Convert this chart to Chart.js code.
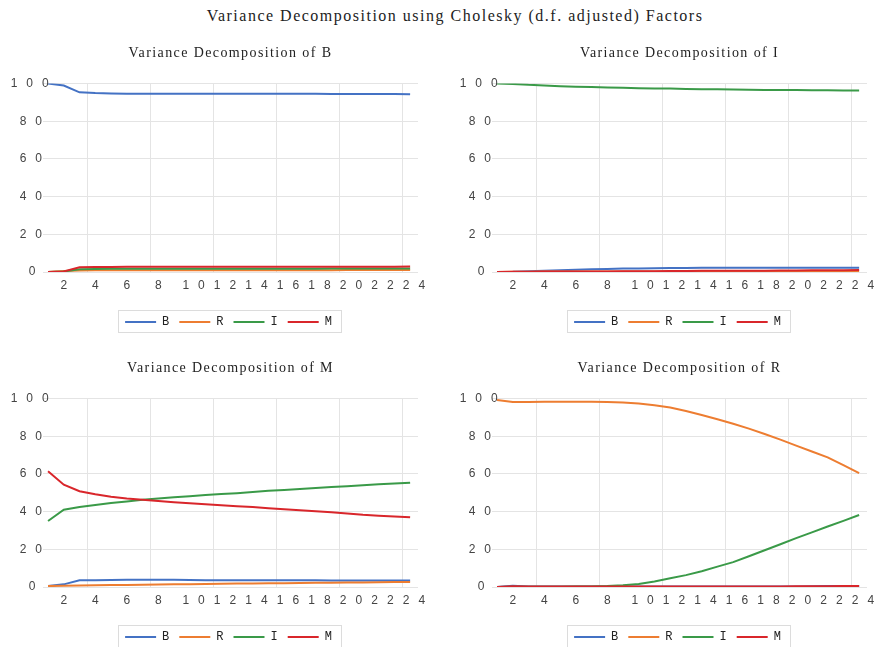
<!DOCTYPE html>
<html>
<head>
<meta charset="utf-8">
<title>Variance Decomposition</title>
<script src="https://cdn.jsdelivr.net/npm/chart.js@4.4.1/dist/chart.umd.min.js"></script>
<style>
  html, body { margin: 0; padding: 0; background: #fff; overflow: hidden; }
  body { width: 875px; height: 647px; position: relative; }
  #title {
    position: absolute; left: 0; top: 6px; width: 910px;
    text-align: center; font: 16px 'Liberation Serif', serif;
    letter-spacing: 1.5px; line-height: 20px; color: #222;
  }
  .box { position: absolute; width: 437px; height: 308px; }
</style>
</head>
<body>
<div id="title">Variance Decomposition using Cholesky (d.f. adjusted) Factors</div>
<div class="box" style="left:0;top:30px"><canvas id="chartB" width="437" height="308"></canvas></div>
<div class="box" style="left:437px;top:30px"><canvas id="chartI" width="437" height="308"></canvas></div>
<div class="box" style="left:0;top:345px"><canvas id="chartM" width="437" height="308"></canvas></div>
<div class="box" style="left:437px;top:345px"><canvas id="chartR" width="437" height="308"></canvas></div>

<script>
const periods = [1, 2, 3, 4, 5, 6, 7, 8, 9, 10, 11, 12, 13, 14, 15, 16, 17, 18, 19, 20, 21, 22, 23, 24];
const seriesNames = ['B', 'R', 'I', 'M'];
const seriesColors = ['#4472C4', '#ED7D31', '#3A9A48', '#D9262B'];
const yTicks = [0, 20, 40, 60, 80, 100];
const xTickLabels = [2, 4, 6, 8, 10, 12, 14, 16, 18, 20, 22, 24];
const xGridAt = [3.5, 7.5, 11.5, 15.5, 19.5, 23.5];

// Variance Decomposition of B
const ofB_B = [100, 98.9, 95.3, 94.9, 94.7, 94.6, 94.6, 94.6, 94.6, 94.6, 94.6, 94.6, 94.6, 94.6, 94.5, 94.5, 94.5, 94.5, 94.4, 94.4, 94.4, 94.4, 94.4, 94.3];
const ofB_R = [0, 0.5, 0.8, 0.9, 0.9, 0.9, 0.9, 0.9, 0.9, 0.9, 0.9, 0.9, 0.9, 0.9, 0.9, 0.9, 0.9, 0.9, 0.9, 1.0, 1.0, 1.0, 1.0, 1.0];
const ofB_I = [0, 0.3, 1.4, 1.6, 1.7, 1.7, 1.7, 1.7, 1.7, 1.7, 1.7, 1.7, 1.7, 1.7, 1.7, 1.7, 1.7, 1.7, 1.8, 1.8, 1.8, 1.8, 1.8, 1.8];
const ofB_M = [0, 0.3, 2.5, 2.6, 2.7, 2.8, 2.8, 2.8, 2.8, 2.8, 2.8, 2.8, 2.8, 2.8, 2.8, 2.8, 2.8, 2.8, 2.8, 2.8, 2.8, 2.8, 2.8, 2.9];

// Variance Decomposition of I
const ofI_B = [0, 0.1, 0.4, 0.7, 0.9, 1.2, 1.4, 1.6, 1.8, 1.9, 2.0, 2.1, 2.1, 2.2, 2.2, 2.2, 2.3, 2.3, 2.3, 2.3, 2.3, 2.3, 2.3, 2.3];
const ofI_R = [0, 0.1, 0.1, 0.2, 0.2, 0.2, 0.2, 0.2, 0.2, 0.2, 0.2, 0.3, 0.3, 0.3, 0.3, 0.3, 0.3, 0.3, 0.4, 0.4, 0.4, 0.4, 0.4, 0.4];
const ofI_I = [100, 99.8, 99.3, 99.0, 98.6, 98.3, 98.1, 97.9, 97.7, 97.5, 97.4, 97.3, 97.1, 97.0, 96.9, 96.8, 96.7, 96.6, 96.5, 96.5, 96.4, 96.4, 96.3, 96.3];
const ofI_M = [0, 0.1, 0.1, 0.2, 0.2, 0.3, 0.3, 0.3, 0.4, 0.4, 0.4, 0.5, 0.5, 0.6, 0.6, 0.7, 0.7, 0.7, 0.8, 0.8, 0.9, 0.9, 0.9, 1.0];

// Variance Decomposition of M
const ofM_B = [0.5, 1.4, 3.6, 3.6, 3.7, 3.8, 3.8, 3.8, 3.8, 3.7, 3.6, 3.6, 3.6, 3.6, 3.6, 3.6, 3.6, 3.6, 3.5, 3.4, 3.4, 3.4, 3.4, 3.4];
const ofM_R = [0.5, 0.7, 0.8, 0.9, 1.0, 1.1, 1.2, 1.3, 1.4, 1.5, 1.6, 1.7, 1.8, 1.9, 2.0, 2.0, 2.1, 2.2, 2.3, 2.4, 2.4, 2.5, 2.6, 2.7];
const ofM_I = [35.0, 41.0, 42.4, 43.5, 44.5, 45.4, 46.3, 47.0, 47.6, 48.2, 48.8, 49.3, 49.8, 50.4, 51.0, 51.5, 52.0, 52.5, 53.0, 53.5, 54.0, 54.5, 54.9, 55.3];
const ofM_M = [61.4, 54.3, 50.8, 49.2, 47.9, 47.0, 46.3, 45.6, 45.0, 44.4, 43.9, 43.4, 42.9, 42.4, 41.8, 41.2, 40.7, 40.2, 39.6, 39.0, 38.3, 37.8, 37.4, 37.0];

// Variance Decomposition of R
const ofR_B = [0, 0.7, 0.3, 0.2, 0.2, 0.2, 0.2, 0.2, 0.2, 0.2, 0.2, 0.2, 0.2, 0.2, 0.2, 0.2, 0.2, 0.3, 0.3, 0.3, 0.4, 0.5, 0.5, 0.5];
const ofR_R = [99.2, 98.2, 98.2, 98.3, 98.3, 98.3, 98.3, 98.2, 97.9, 97.3, 96.4, 95.2, 93.4, 91.2, 89.0, 86.6, 84.0, 81.2, 78.2, 75.0, 71.9, 68.8, 64.6, 60.4];
const ofR_I = [0, 0.1, 0.1, 0.1, 0.1, 0.2, 0.3, 0.5, 0.9, 1.6, 2.9, 4.6, 6.3, 8.4, 10.8, 13.2, 16.3, 19.5, 22.7, 25.9, 29.0, 32.1, 35.1, 38.2];
const ofR_M = [0, 0.4, 0.3, 0.3, 0.3, 0.3, 0.3, 0.3, 0.3, 0.3, 0.3, 0.3, 0.3, 0.3, 0.3, 0.3, 0.3, 0.3, 0.3, 0.4, 0.4, 0.4, 0.5, 0.5];

const CHAR_STEP = 15.7;
const xTickValues = xTickLabels.concat(xGridAt).sort((a, b) => a - b);

Chart.defaults.font.family = "'Liberation Sans', Arial, sans-serif";

// tick labels in the picture are drawn with very wide letter spacing
function spaceLabels(scale) {
  if (scale._spaced) return;
  scale._spaced = true;
  scale._computeLabelArea = () => undefined; // let "100" run into the plot like the original
  const orig = scale.drawLabels;
  scale.drawLabels = function (area) {
    const ctx = this.ctx;
    const fill = ctx.fillText;
    const horiz = this.isHorizontal();
    ctx.fillText = function (text, x, y) {
      const chars = String(text).split('');
      const n = chars.length;
      const first = horiz ? x - (n - 1) * 4 : x - 2 - n * 9;
      const align = this.textAlign;
      this.textAlign = 'center';
      chars.forEach((c, i) => fill.call(this, c, first + i * CHAR_STEP, y));
      this.textAlign = align;
    };
    orig.call(this, area);
    delete ctx.fillText;
  };
}

const tweaks = {
  id: 'tweaks',
  afterLayout(chart) {
    const ca = chart.chartArea;
    const t = chart.titleBlock;
    if (t) {
      t.left = ca.left; t.right = ca.right;
      if (!t._wrapped) {
        t._wrapped = true;
        const d = t.draw;
        t.draw = function () {
          const c = this.ctx;
          c.save();
          c.letterSpacing = '1.4px';
          d.call(this);
          c.restore();
        };
      }
    }
    const lg = chart.legend;
    if (lg) { lg.left = ca.left - 2; lg.right = ca.right - 2; }
  },
  beforeDraw(chart) {
    spaceLabels(chart.scales.x);
    spaceLabels(chart.scales.y);
  },
  afterDraw(chart) {
    const hb = chart.legend.legendHitBoxes;
    if (!hb || !hb.length) return;
    const ctx = chart.ctx;
    const last = hb[hb.length - 1];
    const l = Math.round(hb[0].left - 7) + 0.5;
    const r = Math.round(last.left + last.width + 9) + 0.5;
    const t = Math.round(hb[0].top - 6) + 0.5;
    const b = Math.round(hb[0].top + 16) + 0.5;
    ctx.save();
    ctx.strokeStyle = '#dcdcdc';
    ctx.lineWidth = 1;
    ctx.strokeRect(l, t, r - l, b - t);
    ctx.restore();
  }
};

function makeChart(id, title, values, side) {
  const yWidth = side === 'left' ? 43 : 55;
  const padRight = side === 'left' ? 19 : 7;
  const tickFont = { family: "'Liberation Sans', Arial, sans-serif", size: 12 };
  return new Chart(document.getElementById(id).getContext('2d'), {
    type: 'line',
    data: {
      labels: periods,
      datasets: seriesNames.map((name, k) => ({
        label: name,
        data: values[k],
        borderColor: seriesColors[k],
        backgroundColor: seriesColors[k],
        borderWidth: 2,
        pointRadius: 0,
        tension: 0,
        fill: false,
        order: 4 - k
      }))
    },
    options: {
      responsive: false,
      animation: false,
      devicePixelRatio: 1,
      layout: { padding: { left: 0, right: padRight, top: 0, bottom: 0 } },
      plugins: {
        title: {
          display: true,
          text: title,
          color: '#222',
          font: { family: "'Liberation Serif', serif", size: 14, weight: 'normal' },
          padding: { top: 14.6, bottom: 22.1 }
        },
        legend: {
          position: 'bottom',
          labels: {
            usePointStyle: true,
            pointStyle: 'line',
            pointStyleWidth: 31,
            padding: 10,
            color: '#222',
            font: { family: "'Liberation Mono', monospace", size: 12 },
            sort: (a, b) => a.datasetIndex - b.datasetIndex
          }
        },
        tooltip: { enabled: false }
      },
      scales: {
        x: {
          type: 'linear',
          min: 0.68,
          max: 24.5,
          afterBuildTicks: s => { s.ticks = xTickValues.map(v => ({ value: v })); },
          afterFit: s => { s.height = 34; },
          ticks: {
            autoSkip: false,
            maxRotation: 0,
            padding: 6.5,
            color: '#444',
            font: tickFont,
            callback: v => Number.isInteger(v) ? String(v) : ''
          },
          grid: {
            drawTicks: false,
            color: c => (c.tick && !Number.isInteger(c.tick.value)) ? '#e4e4e4' : 'rgba(0,0,0,0)'
          },
          border: { display: false }
        },
        y: {
          min: 0,
          max: 100,
          afterBuildTicks: s => { s.ticks = yTicks.map(v => ({ value: v })); },
          afterFit: s => { s.width = yWidth; },
          ticks: { padding: 0, color: '#444', font: tickFont },
          grid: { drawTicks: false, color: '#e4e4e4' },
          border: { display: false }
        }
      }
    },
    plugins: [tweaks]
  });
}

makeChart('chartB', 'Variance Decomposition of B', [ofB_B, ofB_R, ofB_I, ofB_M], 'left');
makeChart('chartI', 'Variance Decomposition of I', [ofI_B, ofI_R, ofI_I, ofI_M], 'right');
makeChart('chartM', 'Variance Decomposition of M', [ofM_B, ofM_R, ofM_I, ofM_M], 'left');
makeChart('chartR', 'Variance Decomposition of R', [ofR_B, ofR_R, ofR_I, ofR_M], 'right');
</script>
</body>
</html>
